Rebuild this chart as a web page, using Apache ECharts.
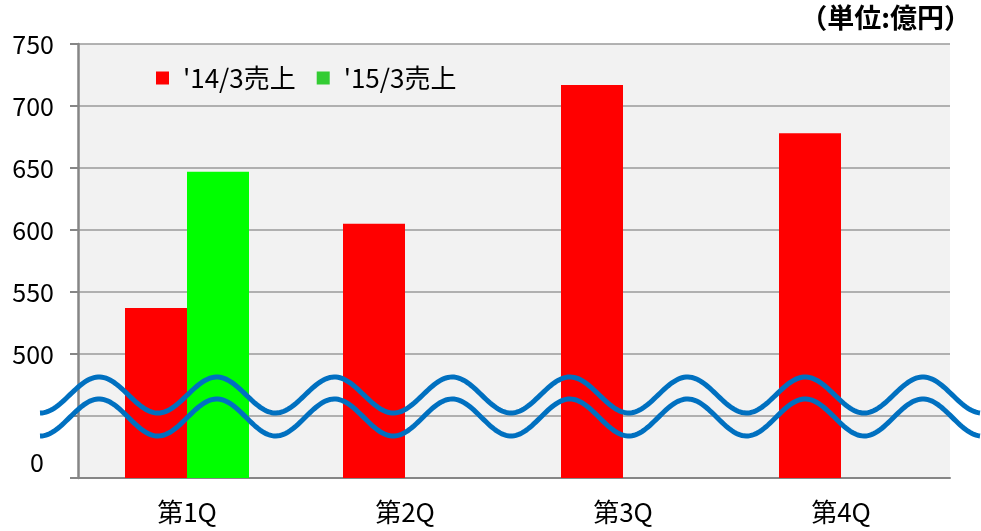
<!DOCTYPE html>
<html>
<head>
<meta charset="utf-8">
<script src="https://cdn.jsdelivr.net/npm/echarts@6/dist/echarts.min.js"></script>
<style>
  html, body { margin: 0; padding: 0; background: #fff; }
  #main { width: 981px; height: 531px; }
</style>
</head>
<body>
<div id="main"></div>
<script>
var quarters = ['第1Q', '第2Q', '第3Q', '第4Q'];
var sales14 = [537, 605, 717, 678];
var sales15 = [647, null, null, null];
var seriesNames = ["'14/3売上", "'15/3売上"];
var unitText = '（単位:億円）';

var chart = echarts.init(document.getElementById('main'));

// 省略線（波線）の点を作る
function wave(cy, amp) {
  var pts = [];
  var P = 117.7;
  for (var x = 40; x <= 981; x += 2) {
    pts.push([x, cy + amp * Math.cos(2 * Math.PI * (x - 40.2) / P)]);
  }
  return pts;
}

var fontJP = '"Noto Sans CJK JP", "Noto Sans", sans-serif';

var option = {
  animation: false,
  textStyle: { fontFamily: fontJP },
  grid: {
    left: 78, right: 31, top: 44, bottom: 53,
    show: true, backgroundColor: '#f2f2f2', borderWidth: 0
  },
  legend: {
    left: 151, top: 60,
    icon: 'rect',
    itemWidth: 13, itemHeight: 13, itemGap: 21,
    textStyle: { fontSize: 26, color: '#000', fontFamily: fontJP, padding: [0, 0, 0, 9] },
    data: [
      { name: seriesNames[0], itemStyle: { color: '#ff0000' } },
      { name: seriesNames[1], itemStyle: { color: '#33cc33' } }
    ]
  },
  xAxis: {
    type: 'category',
    data: quarters,
    axisLine: { lineStyle: { color: '#868686', width: 2 } },
    axisTick: { length: 7, lineStyle: { color: '#868686', width: 2 } },
    axisLabel: { fontSize: 26, color: '#000', margin: 21, fontFamily: fontJP }
  },
  yAxis: {
    type: 'value',
    min: 400, max: 750, interval: 50,
    axisLine: { show: true, lineStyle: { color: '#868686', width: 2.5 } },
    axisTick: { show: true, length: 8, lineStyle: { color: '#868686', width: 2 } },
    splitLine: { lineStyle: { color: '#9a9a9a', width: 1.5 } },
    axisLabel: {
      fontSize: 25, color: '#000', margin: 24, fontFamily: fontJP,
      formatter: function (v) {
        if (v === 400) return '{z|0}';
        if (v === 450) return '';
        return v;
      },
      rich: {
        z: { fontSize: 25, color: '#000', fontFamily: fontJP, padding: [0, 10, 32, 0] }
      }
    }
  },
  series: [
    {
      name: seriesNames[0], type: 'bar', data: sales14,
      barWidth: 62, barGap: '0%',
      itemStyle: { color: '#ff0000' }
    },
    {
      name: seriesNames[1], type: 'bar', data: sales15,
      barWidth: 62,
      itemStyle: { color: '#00ff00' }
    }
  ],
  graphic: [
    {
      type: 'text', right: 10, top: 4,
      style: { text: unitText, fill: '#000', font: 'bold 27px ' + fontJP }
    },
    {
      type: 'polyline', z: 100,
      shape: { points: wave(395, 18) },
      style: { stroke: '#0070c0', lineWidth: 5, fill: null }
    },
    {
      type: 'polyline', z: 100,
      shape: { points: wave(417.5, 18.5) },
      style: { stroke: '#0070c0', lineWidth: 5, fill: null }
    }
  ]
};

chart.setOption(option);
</script>
</body>
</html>
